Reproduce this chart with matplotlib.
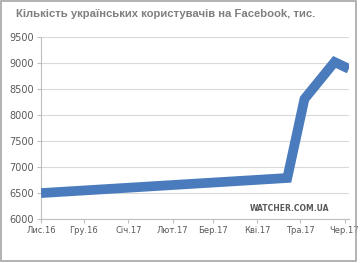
import matplotlib
matplotlib.use("Agg")
import matplotlib.pyplot as plt
import numpy as np
import pandas as pd
from matplotlib.patches import Rectangle

# data
dates = pd.to_datetime(["2016-11-01", "2017-04-22", "2017-05-04", "2017-05-25", "2017-06-04"])
users = [6500, 6790, 8310, 9020, 8890]

month_ticks = pd.date_range("2016-11-01", "2017-06-01", freq="MS")
month_labels = ["Лис.16", "Гру.16", "Січ.17", "Лют.17", "Бер.17", "Кві.17", "Тра.17", "Чер.17"]

title = "Кількість українських користувачів на Facebook, тис."

fig = plt.figure(figsize=(3.6, 2.63), dpi=100)
ax = fig.add_axes([0.114, 0.167, 0.855, 0.692])

ax.plot(dates, users, color="#4a7bbd", linewidth=7, solid_joinstyle="miter", solid_capstyle="butt", zorder=3)

ax.set_ylim(6000, 9500)
ax.set_yticks(np.arange(6000, 9501, 500))
ax.set_xlim(pd.Timestamp("2016-11-01"), pd.Timestamp("2017-06-04"))
ax.set_xticks(month_ticks)
ax.set_xticklabels(month_labels)

ax.grid(axis="y", color="#d9d9d9", linewidth=0.8)
ax.set_axisbelow(True)
for s in ["top", "right"]:
    ax.spines[s].set_visible(False)
for s in ["left", "bottom"]:
    ax.spines[s].set_color("#bfbfbf")
    ax.spines[s].set_linewidth(0.8)
ax.tick_params(axis="y", colors="#bfbfbf", labelcolor="#595959", labelsize=7, length=3, width=0.8, pad=2)
ax.tick_params(axis="x", colors="#bfbfbf", labelcolor="#595959", labelsize=6, length=3, width=0.8, pad=2)

fig.text(0.045, 0.945, title, fontsize=8.1, fontweight="bold", color="#7f7f7f", va="center",
         family=["Liberation Sans", "DejaVu Sans"])
ax.text(0.935, 0.06, "WATCHER.COM.UA", transform=ax.transAxes, fontsize=5.5, fontweight="bold",
        color="#595959", ha="right", va="center")

fig.patches.append(Rectangle((0.002, 0.006), 0.988, 0.99, transform=fig.transFigure,
                             fill=False, edgecolor="#a6a6a6", linewidth=1.2))

fig.savefig("out.png", dpi=100)
